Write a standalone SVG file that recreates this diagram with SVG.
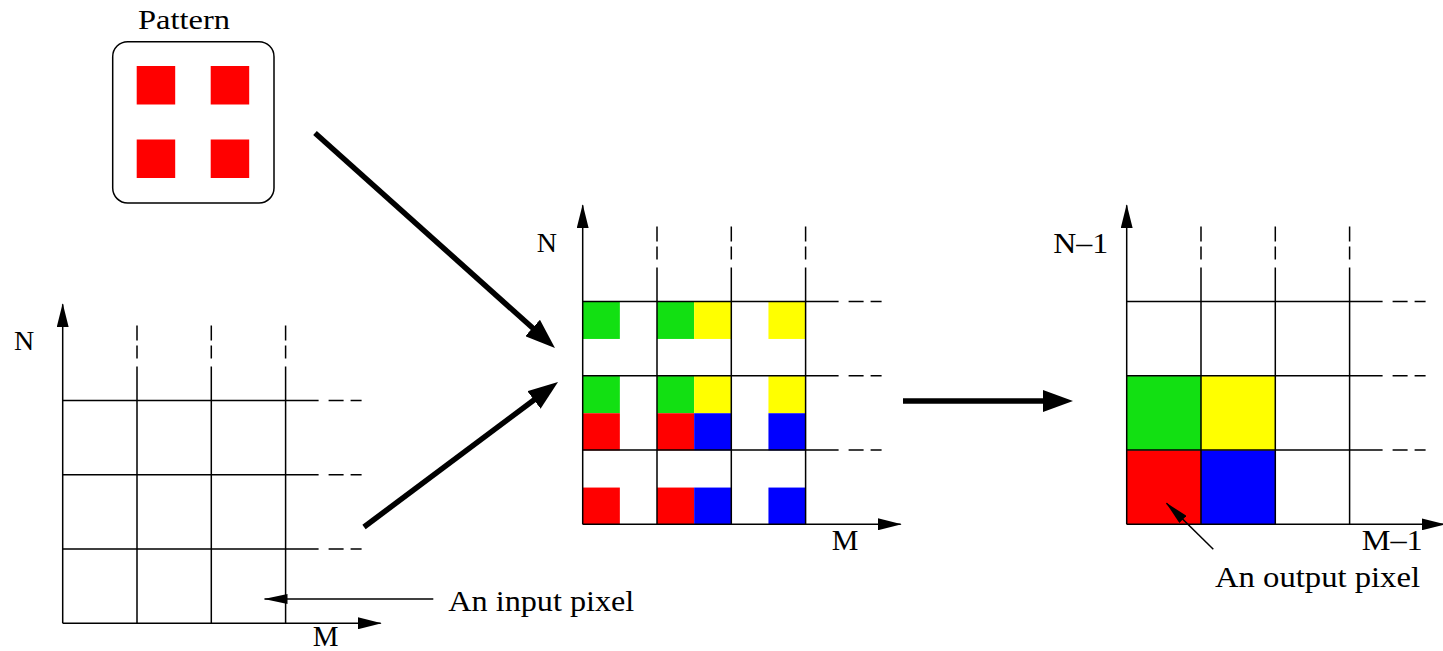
<svg xmlns="http://www.w3.org/2000/svg" xmlns:xlink="http://www.w3.org/1999/xlink" width="1443" height="651" viewBox="0 0 1443 651">
<style>
.ln{stroke:#000;stroke-width:1.5;fill:none}
.ax{stroke:#000;stroke-width:1.5;fill:none;marker-end:url(#ah)}
.thick{stroke:#000;stroke-width:5.5;fill:none;marker-end:url(#th)}
.thin{stroke:#000;stroke-width:1.5;fill:none;marker-end:url(#sh)}
.t{font-family:"Liberation Serif","Times New Roman",serif;fill:#000}
.g{fill:#12e012}.y{fill:#ffff00}.r{fill:#ff0000}.b{fill:#0000ff}
</style>
<defs>
<marker id="ah" markerWidth="24" markerHeight="12" refX="23" refY="6" orient="auto" markerUnits="userSpaceOnUse"><path d="M0,0 L24,6 L0,12 Z" fill="#000"/></marker>
<marker id="th" markerWidth="30" markerHeight="22" refX="20" refY="11" orient="auto" markerUnits="userSpaceOnUse"><path d="M0,0 L30,11 L0,22 Z" fill="#000"/></marker>
<marker id="sh" markerWidth="24" markerHeight="10" refX="23" refY="5" orient="auto" markerUnits="userSpaceOnUse"><path d="M0,0 L24,5 L0,10 Z" fill="#000"/></marker>
<g id="grid">
<path class="ax" d="M0,0 V-319"/>
<path class="ax" d="M0,0 H318"/>
<path class="ln" d="M74.3,0 V-256.9 M148.6,0 V-256.9 M222.9,0 V-256.9"/>
<path class="ln" d="M74.3,-264.9 V-277.9 M74.3,-282.9 V-297.9 M148.6,-264.9 V-277.9 M148.6,-282.9 V-297.9 M222.9,-264.9 V-277.9 M222.9,-282.9 V-297.9"/>
<path class="ln" d="M0,-74.3 H255.9 M0,-148.6 H255.9 M0,-222.9 H255.9"/>
<path class="ln" d="M265.9,-74.3 H280.9 M287.9,-74.3 H298.9 M265.9,-148.6 H280.9 M287.9,-148.6 H298.9 M265.9,-222.9 H280.9 M287.9,-222.9 H298.9"/>
</g>
</defs>
<rect width="1443" height="651" fill="#fff"/>

<g id="pattern">
<text class="t" x="184" y="29" font-size="27" text-anchor="middle" textLength="92" lengthAdjust="spacingAndGlyphs">Pattern</text>
<rect x="112.7" y="41.7" width="161.3" height="161.3" rx="15" ry="15" class="ln"/>
<rect class="r" x="136.7" y="66" width="38.5" height="38.5"/>
<rect class="r" x="210.7" y="66" width="38.5" height="38.5"/>
<rect class="r" x="136.7" y="139.5" width="38.5" height="38.5"/>
<rect class="r" x="210.7" y="139.5" width="38.5" height="38.5"/>
</g>

<g id="input-grid">
<use xlink:href="#grid" href="#grid" transform="translate(62.7,623.3)"/>
<text class="t" x="14" y="350" font-size="28">N</text>
<text class="t" x="312.7" y="645.5" font-size="29">M</text>
</g>

<g id="input-pixel-label">
<text class="t" x="448.3" y="610.7" font-size="30" textLength="186" lengthAdjust="spacingAndGlyphs">An input pixel</text>
</g>

<g id="middle-grid">
<rect class="g" x="582.7" y="301.8" width="37.15" height="37.15"/>
<rect class="g" x="657" y="301.8" width="37.15" height="37.15"/>
<rect class="g" x="582.7" y="376.1" width="37.15" height="37.15"/>
<rect class="g" x="657" y="376.1" width="37.15" height="37.15"/>
<rect class="y" x="694.15" y="301.8" width="37.15" height="37.15"/>
<rect class="y" x="768.45" y="301.8" width="37.15" height="37.15"/>
<rect class="y" x="694.15" y="376.1" width="37.15" height="37.15"/>
<rect class="y" x="768.45" y="376.1" width="37.15" height="37.15"/>
<rect class="r" x="582.7" y="413.25" width="37.15" height="37.15"/>
<rect class="r" x="657" y="413.25" width="37.15" height="37.15"/>
<rect class="r" x="582.7" y="487.55" width="37.15" height="37.15"/>
<rect class="r" x="657" y="487.55" width="37.15" height="37.15"/>
<rect class="b" x="694.15" y="413.25" width="37.15" height="37.15"/>
<rect class="b" x="768.45" y="413.25" width="37.15" height="37.15"/>
<rect class="b" x="694.15" y="487.55" width="37.15" height="37.15"/>
<rect class="b" x="768.45" y="487.55" width="37.15" height="37.15"/>
<use xlink:href="#grid" href="#grid" transform="translate(582.7,524.3)"/>
<text class="t" x="536.7" y="252.3" font-size="28">N</text>
<text class="t" x="831.7" y="550" font-size="30">M</text>
</g>

<g id="output-grid">
<rect class="g" x="1126.7" y="376.1" width="74.3" height="74.3"/>
<rect class="y" x="1201" y="376.1" width="74.3" height="74.3"/>
<rect class="r" x="1126.7" y="450.4" width="74.3" height="74.3"/>
<rect class="b" x="1201" y="450.4" width="74.3" height="74.3"/>
<use xlink:href="#grid" href="#grid" transform="translate(1126.7,524.3)"/>
<text class="t" x="1053.3" y="252.7" font-size="29" textLength="55" lengthAdjust="spacingAndGlyphs">N–1</text>
<text class="t" x="1361.7" y="550" font-size="30" textLength="61" lengthAdjust="spacingAndGlyphs">M–1</text>
</g>

<g id="output-pixel-label">
<text class="t" x="1215" y="586.7" font-size="30" textLength="205" lengthAdjust="spacingAndGlyphs">An output pixel</text>
</g>

<g id="connectors">
<path class="thick" d="M315,133 L547.5,341.3"/>
<path class="thick" d="M364,527 L550,388"/>
<path class="thick" d="M903,401 L1063,401"/>
<path class="thin" d="M433.3,599 L264.5,599"/>
<path class="thin" d="M1213.3,549.3 L1166.5,503.2"/>
</g>
</svg>
